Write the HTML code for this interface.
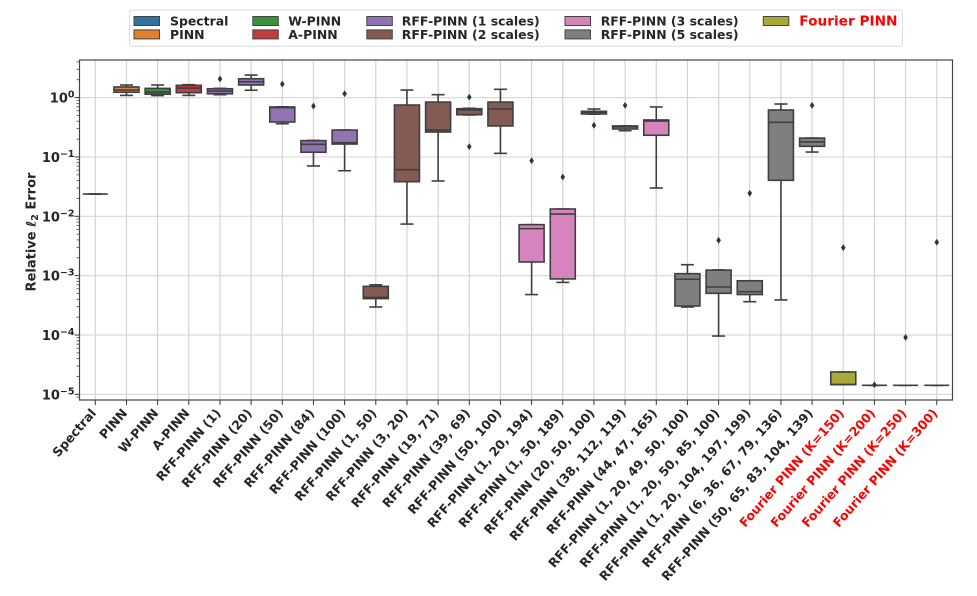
<!DOCTYPE html>
<html>
<head>
<meta charset="utf-8">
<style>
html,body{margin:0;padding:0;background:#fff;}
svg{display:block;}
text{font-family:"DejaVu Sans","Liberation Sans",sans-serif;font-weight:bold;fill:#262626;}
</style>
</head>
<body>
<svg id="chart" width="977" height="596" viewBox="0 0 977 596" xmlns="http://www.w3.org/2000/svg">
  <rect width="977" height="596" fill="#fff"/>
  <g id="grid"></g>
  <g id="boxes"></g>
  <g id="axes"></g>
  <text transform="translate(35.5,232) rotate(-90)" text-anchor="middle" font-size="13">Relative <tspan font-style="italic">ℓ</tspan><tspan font-size="9.5" dy="2.5">2</tspan><tspan dy="-2.5"> Error</tspan></text>
  <g id="legend">
    <rect x="129.5" y="10" width="773" height="36.3" rx="3" fill="#fff" stroke="#dcdcdc" stroke-width="1"/>
  </g>
</svg>
<script>
const categories = ["Spectral","PINN","W-PINN","A-PINN","RFF-PINN (1)","RFF-PINN (20)","RFF-PINN (50)","RFF-PINN (84)","RFF-PINN (100)","RFF-PINN (1, 50)","RFF-PINN (3, 20)","RFF-PINN (19, 71)","RFF-PINN (39, 69)","RFF-PINN (50, 100)","RFF-PINN (1, 20, 194)","RFF-PINN (1, 50, 189)","RFF-PINN (20, 50, 100)","RFF-PINN (38, 112, 119)","RFF-PINN (44, 47, 165)","RFF-PINN (1, 20, 49, 50, 100)","RFF-PINN (1, 20, 50, 85, 100)","RFF-PINN (1, 20, 104, 197, 199)","RFF-PINN (6, 36, 67, 79, 136)","RFF-PINN (50, 65, 83, 104, 139)","Fourier PINN (K=150)","Fourier PINN (K=200)","Fourier PINN (K=250)","Fourier PINN (K=300)"];
const groupIndex = [0,1,2,3,4,4,4,4,4,5,5,5,5,5,6,6,6,6,6,7,7,7,7,7,8,8,8,8];
const groupNames = ["Spectral","PINN","W-PINN","A-PINN","RFF-PINN (1 scales)","RFF-PINN (2 scales)","RFF-PINN (3 scales)","RFF-PINN (5 scales)","Fourier PINN"];
const groupColors = ["#3274a1","#e1812c","#3a923a","#c03d3e","#9372b2","#845b53","#d684bd","#7f7f7f","#a9aa35"];
const whiskerLow = [0.0237,1.09,1.08,1.09,1.12,1.33,0.363,0.0705,0.0586,2.96e-4,0.0074,0.0394,0.51,0.115,4.8e-4,7.7e-4,0.525,0.277,0.03,2.96e-4,9.6e-5,3.64e-4,3.9e-4,0.121,1.46e-5,1.42e-5,1.42e-5,1.42e-5];
const quartile1 = [0.0237,1.23,1.14,1.21,1.16,1.63,0.388,0.12,0.165,4.1e-4,0.0383,0.263,0.515,0.333,0.0017,8.8e-4,0.53,0.296,0.232,3.08e-4,5.04e-4,4.8e-4,0.0404,0.151,1.46e-5,1.42e-5,1.42e-5,1.42e-5];
const medians = [0.0237,1.34,1.24,1.45,1.29,1.85,0.68,0.163,0.174,4.3e-4,0.061,0.284,0.62,0.643,0.0062,0.0109,0.565,0.32,0.403,8.7e-4,6.44e-4,5.37e-4,0.384,0.179,1.46e-5,1.42e-5,1.42e-5,1.42e-5];
const quartile3 = [0.0237,1.51,1.43,1.61,1.41,2.08,0.695,0.188,0.284,6.6e-4,0.75,0.84,0.65,0.84,0.00723,0.01327,0.587,0.333,0.42,0.00108,0.00124,8.2e-4,0.618,0.208,2.38e-5,1.42e-5,1.42e-5,1.42e-5];
const whiskerHigh = [0.0237,1.63,1.63,1.65,1.43,2.4,0.7,0.19,0.284,7.0e-4,1.34,1.12,0.66,1.38,0.00723,0.01327,0.643,0.333,0.695,0.00153,0.00125,8.2e-4,0.78,0.208,2.38e-5,1.42e-5,1.42e-5,1.42e-5];
const fliers = [[],[],[],[],[2.06],[],[1.69],[0.72],[1.16],[],[],[],[1.02,0.149],[],[0.0865],[0.0459],[0.341],[0.74],[],[],[0.00394],[0.0244],[],[0.74],[0.00296],[1.45e-5],[9.1e-5],[0.00365]];
const yTickExponents = [0,-1,-2,-3,-4,-5];
const minorMultipliers = [2,3,4,5,6,7,8,9];
const redLabelStart = 24;

const NS = "http://www.w3.org/2000/svg";
const left = 79.5, right = 952.5, top_ = 60, bottom = 400;
const x0 = 95.3, xStep = 31.165, boxW = 25, capW = 13;
const y0 = 97.6, yDecade = 59.35;
const lineColor = "#3f3f3f";
function xScale(i){ return x0 + i * xStep; }
function yScale(v){ return y0 - Math.log10(v) * yDecade; }
function mk(tag, attrs, parent){
  const el = document.createElementNS(NS, tag);
  for (const k in attrs) el.setAttribute(k, attrs[k]);
  parent.appendChild(el);
  return el;
}
const gridG = document.getElementById("grid");
const boxesG = document.getElementById("boxes");
const axesG = document.getElementById("axes");
const legendG = document.getElementById("legend");

yTickExponents.forEach(function(e){
  const y = yScale(Math.pow(10, e));
  const line = mk("line", {x1:left, x2:right, y1:y, y2:y, stroke:"#dadada", "stroke-width":1.2}, gridG);
  
  
});
categories.forEach(function(c, i){
  const x = xScale(i);
  const line = mk("line", {x1:x, x2:x, y1:top_, y2:bottom, stroke:"#d4d4d4", "stroke-width":1.2}, gridG);
  
  
});

categories.forEach(function(c, i){
  const x = xScale(i);
  const g = mk("g", {stroke:lineColor, "stroke-width":1.6, fill:"none"}, boxesG);
  
  
  const yLow = yScale(whiskerLow[i]), yQ1 = yScale(quartile1[i]), yMed = yScale(medians[i]), yQ3 = yScale(quartile3[i]), yHigh = yScale(whiskerHigh[i]);
  mk("line", {x1:x, x2:x, y1:yQ1, y2:yLow}, g);
  mk("line", {x1:x, x2:x, y1:yQ3, y2:yHigh}, g);
  mk("line", {x1:x-capW/2, x2:x+capW/2, y1:yLow, y2:yLow}, g);
  mk("line", {x1:x-capW/2, x2:x+capW/2, y1:yHigh, y2:yHigh}, g);
  mk("rect", {x:x-boxW/2, y:yQ3, width:boxW, height:Math.max(yQ1-yQ3,0), fill:groupColors[groupIndex[i]]}, g);
  mk("line", {x1:x-boxW/2, x2:x+boxW/2, y1:yMed, y2:yMed}, g);
  fliers[i].forEach(function(v){
    const fy = yScale(v);
    const d = mk("path", {d:"M"+x+" "+(fy-3.4)+"L"+(x+2.3)+" "+fy+"L"+x+" "+(fy+3.4)+"L"+(x-2.3)+" "+fy+"Z", fill:"#333", stroke:"none"}, g);
    
    
  });
});

yTickExponents.forEach(function(e){
  const y = yScale(Math.pow(10, e));
  const t = mk("line", {x1:left-5, x2:left, y1:y, y2:y, stroke:"#333", "stroke-width":1}, axesG);
  
  
  const lab = mk("text", {x:left-5, y:y+5, "text-anchor":"end", "font-size":13}, axesG);
  
  
  const a = mk("tspan", {}, lab); a.textContent = "10";
  const b = mk("tspan", {"font-size":9.5, dy:-5}, lab); b.textContent = (e < 0 ? "\u2212" + (-e) : String(e));
});
[1,0,-1,-2,-3,-4,-5,-6].forEach(function(e){
  minorMultipliers.forEach(function(m){
    const y = yScale(m * Math.pow(10, e));
    if (y < top_ || y > bottom) return;
    const t = mk("line", {x1:left-3, x2:left, y1:y, y2:y, stroke:"#444", "stroke-width":0.8}, axesG);
    
    
  });
});
categories.forEach(function(c, i){
  const x = xScale(i);
  const t = mk("line", {x1:x, x2:x, y1:bottom, y2:bottom+5, stroke:"#333", "stroke-width":1}, axesG);
  
  
  const lab = mk("text", {"text-anchor":"end", "font-size":12.5, transform:"translate("+(x+1.5)+",413.5) rotate(-49)"}, axesG);
  
  
  if (i >= redLabelStart) lab.setAttribute("style", "fill:#ff0000");
  lab.textContent = c;
});
const frame = mk("rect", {x:left, y:top_, width:right-left, height:bottom-top_, fill:"none", stroke:"#444", "stroke-width":1.2}, axesG);



const legendCols = [134, 252.8, 366.8, 565, 763.3];
const legendTextOffset = [36, 35.5, 35, 35.7, 36];
const legendSlots = [[0,0],[0,1],[1,0],[1,1],[2,0],[2,1],[3,0],[3,1],[4,0]];
groupNames.forEach(function(name, i){
  const col = legendSlots[i][0], row = legendSlots[i][1];
  const sw = mk("rect", {x:legendCols[col], y:16.5+row*13.4, width:25.5, height:9, fill:groupColors[i], stroke:"#444", "stroke-width":1}, legendG);
  
  
  const t = mk("text", {x:legendCols[col]+legendTextOffset[col], y:25.7+row*13.4, "font-size":(i === 8 ? 13.7 : 12.45)}, legendG);
  
  
  if (i === 8) t.setAttribute("style", "fill:#ff0000");
  t.textContent = name;
});
</script>
</body>
</html>
